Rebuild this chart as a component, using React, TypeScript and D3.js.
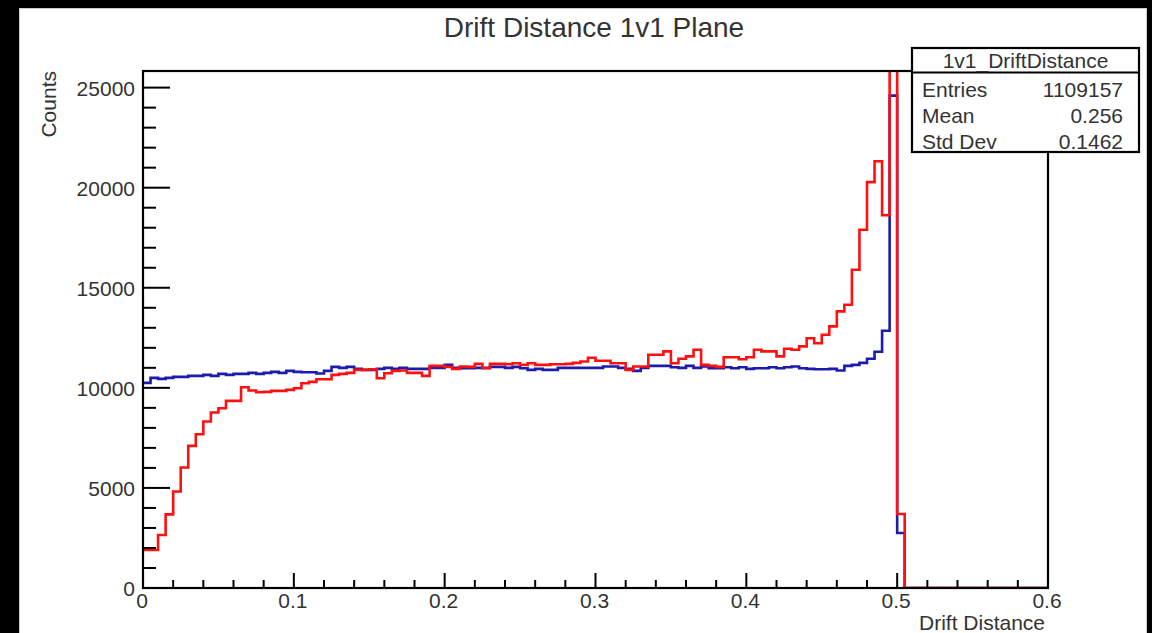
import React from "react";
import * as d3 from "d3";

const BIN_WIDTH = 0.005;
const X_MIN = 0;
const X_MAX = 0.6;

// Blue histogram (1v1_DriftDistance), 120 bins of 0.005
const blueCounts = [
  10250, 10500, 10450, 10500, 10550, 10550, 10600, 10600, 10650, 10600,
  10700, 10650, 10700, 10700, 10750, 10700, 10750, 10800, 10750, 10850,
  10800, 10780, 10780, 10720, 10850, 11050, 11000, 11050, 10950, 10900,
  10900, 10950, 11000, 10950, 11000, 10950, 10950, 10950, 11000, 11000,
  11150, 11000, 10980, 10980, 11000, 11000, 11050, 11050, 11000, 11050,
  10980, 10900, 10950, 10900, 10900, 11000, 11000, 11000, 11000, 11000,
  11000, 11070, 11070, 11000, 10950, 10850, 11000, 11100, 11100, 11100,
  11030, 11000, 11100, 11000, 11070, 10980, 10980, 11030, 10980, 11030,
  10950, 10980, 10980, 11030, 10980, 11030, 11070, 10980, 10950, 10930,
  10930, 10950, 10870, 11100, 11150, 11250, 11450, 11800, 12850, 24600,
  2750, 0, 0, 0, 0, 0, 0, 0, 0, 0,
  0, 0, 0, 0, 0, 0, 0, 0, 0, 0,
];

// Red histogram (overlaid)
const redCounts = [
  1900, 1900, 2650, 3680, 4820, 6020, 7100, 7680, 8320, 8770,
  8980, 9350, 9350, 10030, 9870, 9780, 9800, 9850, 9850, 9900,
  9980, 10230, 10300, 10430, 10430, 10650, 10700, 10750, 10900, 10900,
  10930, 10480, 10730, 10850, 10870, 10750, 10750, 10600, 11100, 11100,
  11050, 10950, 11070, 11050, 11200, 10980, 11200, 11200, 11180, 11230,
  11150, 11230, 11150, 11150, 11180, 11180, 11200, 11250, 11320, 11500,
  11350, 11350, 11230, 11230, 10900, 11070, 11070, 11650, 11650, 11820,
  11230, 11450, 11570, 11900, 11150, 11100, 11050, 11530, 11530, 11430,
  11530, 11900, 11820, 11820, 11570, 11950, 11900, 12070, 12480, 12230,
  12650, 13070, 13820, 14150, 15900, 17900, 20280, 21320, 18620, 45000,
  3700, 0, 0, 0, 0, 0, 0, 0, 0, 0,
  0, 0, 0, 0, 0, 0, 0, 0, 0, 0,
];

const xMajorTicks = [0, 0.1, 0.2, 0.3, 0.4, 0.5, 0.6];
const xTickLabels = ["0", "0.1", "0.2", "0.3", "0.4", "0.5", "0.6"];
const yMajorTicks = [0, 5000, 10000, 15000, 20000, 25000];
const yTickLabels = ["0", "5000", "10000", "15000", "20000", "25000"];

const statsTitle = "1v1_DriftDistance";
const statsNames = ["Entries", "Mean", "Std Dev"];
const statsValues = ["1109157", "0.256", "0.1462"];

const FONT = "'Liberation Sans', Arial, Helvetica, sans-serif";
const TEXT = "#333";

export default function App() {
  const W = 1152;
  const H = 633;
  const L = 143, R = 1048, T = 71, B = 588;

  const yMax = 1.05 * (d3.max(blueCounts) as number);
  const x = d3.scaleLinear().domain([X_MIN, X_MAX]).range([L, R]);
  const y = d3.scaleLinear().domain([0, yMax]).range([B, T]);

  const stepPath = (counts: number[]) => {
    const pts: [number, number][] = [];
    counts.forEach((c, i) => {
      const x0 = X_MIN + i * BIN_WIDTH;
      pts.push([x(x0), y(c)]);
      pts.push([x(x0 + BIN_WIDTH), y(c)]);
    });
    return d3.line()(pts) as string;
  };

  const xMinor = d3.range(0, 0.6001, 0.02).filter(
    (v) => !xMajorTicks.some((m) => Math.abs(m - v) < 1e-6)
  );
  const yMinor = d3.range(0, yMax, 1000).filter((v) => v % 5000 !== 0);

  return (
    <div style={{ position: "fixed", left: 0, top: 0, width: W, height: H, background: "#000" }}>
      <svg width={W} height={H} style={{ display: "block" }}>
        <defs>
          <clipPath id="frameClip">
            <rect x={L} y={T} width={R - L} height={B - T} />
          </clipPath>
        </defs>
        <rect x={0} y={0} width={W} height={H} fill="#000" />
        <rect x={19.5} y={8.5} width={1127} height={630} fill="#fff" stroke="#ccc" strokeWidth={1} />

        {/* Title */}
        <text x={594} y={37} textAnchor="middle" fontFamily={FONT} fontSize={28} fill={TEXT}>
          Drift Distance 1v1 Plane
        </text>

        {/* Histograms */}
        <g clipPath="url(#frameClip)">
          <path d={stepPath(blueCounts)} fill="none" stroke="#1c1caa" strokeWidth={2.6} />
          <path d={stepPath(redCounts)} fill="none" stroke="#ff1010" strokeWidth={2.6} />
        </g>

        {/* Frame */}
        <rect x={L} y={T} width={R - L} height={B - T} fill="none" stroke="#000" strokeWidth={2.2} />

        {/* Y axis ticks */}
        {yMajorTicks.map((v, i) => (
          <g key={"ym" + v}>
            <line x1={L} x2={L + 27} y1={y(v)} y2={y(v)} stroke="#000" strokeWidth={2} />
            <text x={135} y={y(v) + 8} textAnchor="end" fontFamily={FONT} fontSize={21} fill={TEXT}>
              {yTickLabels[i]}
            </text>
          </g>
        ))}
        {yMinor.map((v) => (
          <line key={"yn" + v} x1={L} x2={L + 13} y1={y(v)} y2={y(v)} stroke="#000" strokeWidth={2} />
        ))}

        {/* X axis ticks */}
        {xMajorTicks.map((v, i) => (
          <g key={"xm" + v}>
            <line x1={x(v)} x2={x(v)} y1={B} y2={B - 15} stroke="#000" strokeWidth={2} />
            <text x={x(v) - 1} y={608} textAnchor="middle" fontFamily={FONT} fontSize={21} fill={TEXT}>
              {xTickLabels[i]}
            </text>
          </g>
        ))}
        {xMinor.map((v) => (
          <line key={"xn" + v} x1={x(v)} x2={x(v)} y1={B} y2={B - 8} stroke="#000" strokeWidth={2} />
        ))}

        {/* Axis titles */}
        <text x={1045} y={630} textAnchor="end" fontFamily={FONT} fontSize={21} fill={TEXT}>
          Drift Distance
        </text>
        <text
          transform={`translate(56, ${T}) rotate(-90)`}
          textAnchor="end"
          fontFamily={FONT}
          fontSize={21}
          fill={TEXT}
        >
          Counts
        </text>

        {/* Stats box */}
        <rect x={912} y={48} width={227} height={104} fill="#fff" stroke="#000" strokeWidth={2.2} />
        <line x1={912} x2={1139} y1={72.5} y2={72.5} stroke="#000" strokeWidth={2} />
        <text x={1025.5} y={68} textAnchor="middle" fontFamily={FONT} fontSize={21} fill={TEXT}>
          {statsTitle}
        </text>
        {statsNames.map((n, i) => (
          <g key={n}>
            <text x={922} y={97 + i * 26} fontFamily={FONT} fontSize={21} fill={TEXT}>
              {n}
            </text>
            <text x={1123} y={97 + i * 26} textAnchor="end" fontFamily={FONT} fontSize={21} fill={TEXT}>
              {statsValues[i]}
            </text>
          </g>
        ))}
      </svg>
    </div>
  );
}
